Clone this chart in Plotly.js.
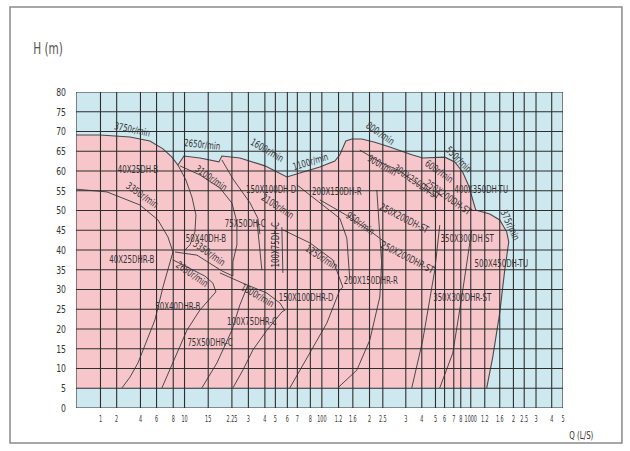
<!DOCTYPE html>
<html><head><meta charset="utf-8">
<script src="https://cdn.plot.ly/plotly-3.0.1.min.js"></script>
<style>body{margin:0;background:#fff}#chart{width:630px;height:451px}</style>
</head><body><div id="chart"></div>
<script>
// x axis: hand-drawn nomogram scale, positions of each labelled grid line (axis units)
const tickLabels = ["1","2","4","6","8","10","15","2.25","3","4","5","6","7","8","100","1.2","1.6","2","2.5","3","4","5","6","7","8","1000","1.2","1.6","2","2.5","3","4","5"];
const tickPos = [24.5,40.7,64.5,80.6,97.3,108.6,132.3,156,172.5,189,199.5,211.5,221.5,234.5,246,262.7,277,293.7,307,330,346,359.7,368.8,378,385,395,409,424,437.7,448.5,460.3,476,487.3];
const headTicks = [0,5,10,15,20,25,30,35,40,45,50,55,60,65,70,75,80];

// outer envelope of all pumps (top curves + right side)
const envX = [0,24,54,74,87,96,102,108,124,143,146,164,189,211,224,244,259,264,270,276,286,299,314,324,336,347,369,379,387,393,397,400,414,424,431,433,429,424,417,411];
const envH = [69.1,69.1,68.6,67.6,65.6,63.5,61.5,63.8,63.3,62.3,63.8,63.3,61.3,58.5,59.5,61.0,62.5,64.1,67.6,68.1,68.1,67.3,66.1,65.1,64.1,63.3,63.5,62.3,59.7,56.2,52.7,50.1,49.1,47.6,44.6,42.0,34.9,24.1,12.9,5.1];
const baseH = 5;

// internal boundary curves
const c1X = [102,110,116,120,119,114,108], c1H = [61.5,57.7,53.4,48.9,44.6,41.3,39.7];
const c2X = [0,31,64,82,92,97], c2H = [55.4,54.7,51.4,47.6,43.3,39.5];
const c3X = [46,54,62,71,79,87,97], c3H = [5.1,7.8,11.4,17.2,22.3,30.6,39.5];
const c4X = [104,124,144,156,161,161,157,157], c4H = [61.3,59.0,55.7,51.9,47.1,41.3,37.0,33.4];
const c5X = [99,121,146,157], c5H = [39.5,38.7,34.7,33.4];
const c6X = [97,114,129,137,140], c6H = [37.5,35.4,33.4,31.6,29.4];
const c7X = [86,97,111,124,140], c7H = [5.1,11.4,19.7,24.8,29.4];
const c8X = [126,141,156,164,172], c8H = [5.1,11.4,19.7,26.1,31.1];
const c9X = [157,167,177,191,206,209], c9H = [5.1,9.6,14.7,19.7,24.3,24.8];
const c10X = [214,234,251,264,267], c10H = [5.1,13.9,21.5,29.9,30.6];
const c11X = [262,281,294,304,307], c11H = [5.1,9.6,17.2,28.1,42.5];
const c12X = [336,347,359,364], c12H = [5.1,17.2,34.9,46.3];
const c13X = [364,377,386,392,396], c13H = [5.1,13.9,28.1,38.2,45.1];
const c14X = [144,167,191,204,209], c14H = [34.2,31.6,29.1,26.6,24.6];
const c15X = [207,234,257,267], c15H = [45.1,41.8,37.5,30.6];
const c16X = [284,304,324,344,361], c16H = [65.3,62.3,60.0,56.2,53.2];
const c17X = [244,270,297,309], c17H = [52.7,48.9,44.3,42.0];
const c18X = [221,264,271,274], c18H = [56.5,48.0,43.0,32.4];
const c19X = [206,207], c19H = [45.8,34.2];
const c20X = [181,186], c20H = [47.6,34.9];
const c21X = [301,307], c21H = [55.2,32.4];
const c22X = [146,157,174,182,184], c22H = [62.8,58.0,52.0,48.0,44.0];

const fontFam = "'Liberation Sans Narrow','DejaVu Sans Condensed',Roboto,sans-serif";
const labels = [
 ["3750r/min",57,70.6,12],["2650r/min",127,66.8,6],["40X25DH-B",62,60.3,0],["3350r/min",67,53.9,35],
 ["3100r/min",136,58.2,35],["75X50DH-C",169,46.8,0],["50X40DH-B",130,43.0,0],["3350r/min",134,39.2,35],
 ["40X25DHR-B",56,37.7,0],["2650r/min",117,33.9,35],["50X40DHR-B",102,25.6,0],["75X50DHR-C",134,16.5,0],
 ["1800r/min",182,28.4,30],["100X75DHR-C",176,21.8,0],["150X100DHR-D",230,28.1,0],["1250r/min",246,38.0,33],
 ["200X150DHR-R",295,32.2,0],["100X75DH-C",200,41.3,-90],["150X100DH-D",195,55.4,0],["2100r/min",202,50.9,33],
 ["1600r/min",192,65.3,30],["1100r/min",235,62.5,-17],["200X150DH-R",261,54.9,0],["950r/min",285,46.8,35],
 ["800r/min",305,69.6,35],["900r/min",307,61.5,30],["300X250DH-ST",341,57.0,35],["250X200DH-ST",329,48.1,27],
 ["250X200DH-ST",373,53.4,35],["600r/min",364,60.0,35],["550r/min",383,62.8,45],["400X350DH-TU",406,55.2,0],
 ["350X300DH ST",392,42.8,0],["500X450DH-TU",426,36.5,0],["375r/min",435,46.3,65],["350X300DHR-ST",387,28.1,0],
 ["250X200DHR-ST",332,38.0,27]
];

const lineCol = '#4a4a4a';
const traces = [];
traces.push({x:[0,...envX,0], y:[baseH,...envH,baseH], mode:'lines', fill:'toself', fillcolor:'#f7c6cb', line:{width:0}, hoverinfo:'skip'});
traces.push({x:envX, y:envH, mode:'lines', line:{color:lineCol,width:1.1}, hoverinfo:'skip'});
const inner = [[c1X,c1H],[c2X,c2H],[c3X,c3H],[c4X,c4H],[c5X,c5H],[c6X,c6H],[c7X,c7H],[c8X,c8H],[c9X,c9H],[c10X,c10H],[c11X,c11H],[c12X,c12H],[c13X,c13H],[c14X,c14H],[c15X,c15H],[c16X,c16H],[c17X,c17H],[c18X,c18H],[c19X,c19H],[c20X,c20H],[c21X,c21H],[c22X,c22H]];
inner.forEach(([x,y])=>traces.push({x:x,y:y,mode:'lines',line:{color:lineCol,width:1},hoverinfo:'skip'}));

const shapes = [];
const xMax = tickPos[tickPos.length-1];
tickPos.forEach(v=>shapes.push({type:'line',xref:'x',yref:'y',x0:v,x1:v,y0:0,y1:80,layer:'above',line:{color:'#2e2e2e',width:1.1}}));
headTicks.forEach(v=>shapes.push({type:'line',xref:'x',yref:'y',x0:0,x1:xMax,y0:v,y1:v,layer:'above',line:{color:'#2e2e2e',width:1.1}}));
shapes.push({type:'line',xref:'x',yref:'y',x0:0,x1:0,y0:0,y1:80,layer:'above',line:{color:'#2e2e2e',width:1.1}});
// outer frame of the figure
shapes.push({type:'rect',xref:'paper',yref:'paper',x0:-0.1355,x1:1.121,y0:-0.111,y1:1.269,layer:'below',line:{color:'#8a8a8a',width:1.5},fillcolor:'rgba(0,0,0,0)'});

const annotations = labels.map(([t,x,y,a])=>({text:t,x:x,y:y,xref:'x',yref:'y',showarrow:false,textangle:a,font:{family:fontFam,size:10,color:'#333'}}));
annotations.push({text:'H (m)',xref:'paper',yref:'paper',x:-0.1,y:1.135,xanchor:'left',yanchor:'middle',showarrow:false,font:{family:fontFam,size:15,color:'#555'}});
annotations.push({text:'Q (L/S)',xref:'paper',yref:'paper',x:1.037,y:-0.088,xanchor:'center',yanchor:'middle',showarrow:false,font:{family:fontFam,size:10,color:'#333'}});

const layout = {
  width:630, height:451,
  margin:{l:76,r:67,t:92,b:43},
  paper_bgcolor:'#ffffff', plot_bgcolor:'#cde8ef',
  showlegend:false,
  xaxis:{range:[0,xMax],tickvals:tickPos,ticktext:tickLabels,showgrid:false,zeroline:false,showline:false,ticks:'',ticklabelstandoff:4,tickfont:{family:fontFam,size:9,color:'#333'},tickangle:0,fixedrange:true},
  yaxis:{range:[0,80],tickvals:headTicks,showgrid:false,zeroline:false,showline:false,ticks:'',ticklabelstandoff:9,tickfont:{family:fontFam,size:11,color:'#333'},fixedrange:true},
  shapes:shapes, annotations:annotations
};
Plotly.newPlot('chart',traces,layout,{displayModeBar:false,staticPlot:true}).then(()=>{
  // narrow the lettering, as the condensed face of the original
  document.querySelectorAll('#chart text.annotation-text, #chart .ytick text').forEach(t=>{
    const len = t.getComputedTextLength();
    if(len>0){t.setAttribute('textLength',(len*0.78).toFixed(1));t.setAttribute('lengthAdjust','spacingAndGlyphs');}
  });
  document.querySelectorAll('#chart .xtick text').forEach(t=>{
    const len = t.getComputedTextLength();
    if(len>0){t.setAttribute('textLength',(len*0.6).toFixed(1));t.setAttribute('lengthAdjust','spacingAndGlyphs');}
  });
});
</script></body></html>
